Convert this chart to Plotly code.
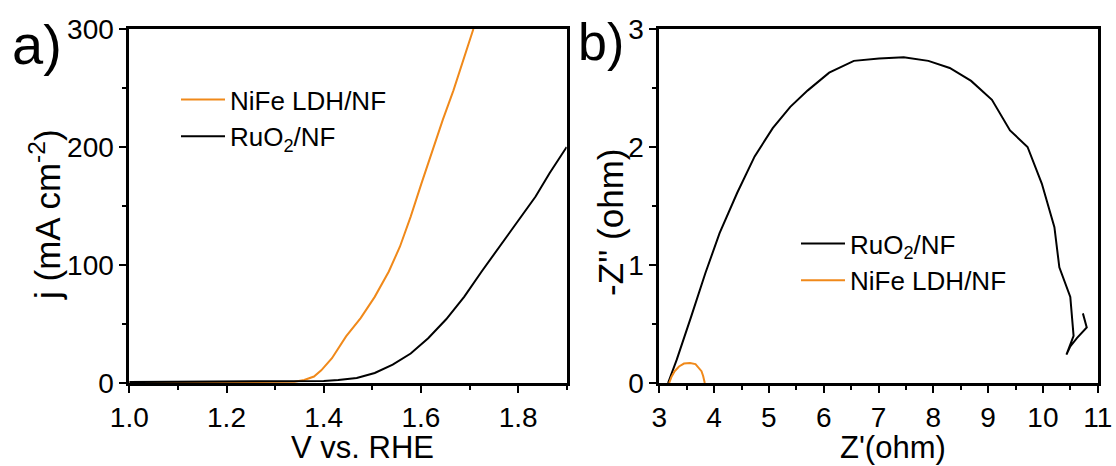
import plotly.graph_objects as go

# ---- Panel a: LSV data ----
nife_v = [1.00, 1.10, 1.20, 1.30, 1.34, 1.36, 1.38, 1.395, 1.417, 1.446, 1.476, 1.505,
          1.534, 1.557, 1.579, 1.601, 1.623, 1.645, 1.667, 1.689, 1.708]
nife_j = [0.5, 0.6, 0.7, 0.8, 1.0, 2.5, 5.5, 10.7, 21, 39.5, 55, 73,
          94.5, 115.7, 141, 169, 196, 223, 248, 277, 300]

ruo2_v = [1.00, 1.10, 1.20, 1.30, 1.40, 1.43, 1.468, 1.505, 1.542, 1.579, 1.615,
          1.652, 1.689, 1.725, 1.762, 1.799, 1.836, 1.865, 1.90]
ruo2_j = [0.8, 1.0, 1.2, 1.4, 1.8, 2.5, 4.2, 8.5, 15.5, 25, 38,
          54, 73, 94.5, 116, 137, 158, 178, 200]

# ---- Panel b: Nyquist data ----
ruo2_zre = [3.16, 3.32, 3.58, 3.84, 4.10, 4.42, 4.74, 5.07, 5.39, 5.71, 6.10, 6.55,
            7.01, 7.46, 7.91, 8.30, 8.69, 9.07, 9.40, 9.72, 9.98, 10.21, 10.30, 10.50,
            10.56, 10.43, 10.50, 10.62, 10.80, 10.73]
ruo2_zim = [0.0, 0.20, 0.56, 0.93, 1.27, 1.61, 1.92, 2.16, 2.34, 2.48, 2.63, 2.73,
            2.75, 2.76, 2.73, 2.67, 2.56, 2.40, 2.14, 2.00, 1.69, 1.32, 0.98, 0.73,
            0.40, 0.24, 0.31, 0.38, 0.47, 0.59]

nife_zre = [3.18, 3.22, 3.28, 3.36, 3.45, 3.56, 3.66, 3.74, 3.77, 3.80, 3.82, 3.83]
nife_zim = [0.0, 0.05, 0.10, 0.14, 0.165, 0.17, 0.16, 0.12, 0.10, 0.06, 0.02, 0.0]

ORANGE = "#F0891A"
BLACK = "#000000"
FONT = "Arial, Liberation Sans, sans-serif"
W, H = 1116, 466

def px_x(p):
    return p / W

def px_y(p):
    return 1 - p / H

fig = go.Figure()
fig.add_trace(go.Scatter(x=nife_v, y=nife_j, mode="lines", name="NiFe LDH/NF",
                         line=dict(color=ORANGE, width=2), xaxis="x", yaxis="y",
                         legend="legend"))
fig.add_trace(go.Scatter(x=ruo2_v, y=ruo2_j, mode="lines", name="RuO<sub>2</sub>/NF",
                         line=dict(color=BLACK, width=2), xaxis="x", yaxis="y",
                         legend="legend"))
fig.add_trace(go.Scatter(x=ruo2_zre, y=ruo2_zim, mode="lines", name="RuO<sub>2</sub>/NF",
                         line=dict(color=BLACK, width=2), xaxis="x2", yaxis="y2",
                         legend="legend2"))
fig.add_trace(go.Scatter(x=nife_zre, y=nife_zim, mode="lines", name="NiFe LDH/NF",
                         line=dict(color=ORANGE, width=2), xaxis="x2", yaxis="y2",
                         legend="legend2"))

ax_common = dict(showline=True, linewidth=2.8, linecolor="black", mirror=True,
                 ticks="outside", ticklen=7, tickwidth=2, tickcolor="black",
                 showgrid=False, zeroline=False,
                 tickfont=dict(family=FONT, size=28, color="black"),
                 automargin=False)

ydom = [px_y(383), px_y(29)]

fig.update_layout(
    width=W, height=H,
    margin=dict(l=0, r=0, t=0, b=0),
    paper_bgcolor="white", plot_bgcolor="white",
    font=dict(family=FONT, color="black"),
    xaxis=dict(domain=[px_x(129.3), px_x(566.7)], range=[1.0, 1.9], dtick=0.2, tick0=1.0,
               tickformat=".1f",
               minor=dict(ticks="outside", ticklen=4, tickwidth=2, dtick=0.1, tick0=1.0,
                          tickcolor="black"),
               anchor="y", **ax_common),
    yaxis=dict(domain=ydom, range=[0, 300], dtick=100,
               minor=dict(ticks="outside", ticklen=4, tickwidth=2, dtick=50,
                          tickcolor="black"),
               anchor="x", **ax_common),
    xaxis2=dict(domain=[px_x(659.3), px_x(1097.7)], range=[3, 11], dtick=1,
                minor=dict(ticks="outside", ticklen=4, tickwidth=2, dtick=0.5,
                           tickcolor="black"),
                anchor="y2", **ax_common),
    yaxis2=dict(domain=ydom, range=[0, 3], dtick=1,
                minor=dict(ticks="outside", ticklen=4, tickwidth=2, dtick=0.5,
                           tickcolor="black"),
                anchor="x2", **ax_common),
    legend=dict(x=px_x(176), y=px_y(76), xanchor="left", yanchor="top",
                bgcolor="rgba(0,0,0,0)", font=dict(family=FONT, size=26, color="black"),
                itemwidth=44, tracegroupgap=0),
    legend2=dict(x=px_x(796), y=px_y(220), xanchor="left", yanchor="top",
                 bgcolor="rgba(0,0,0,0)", font=dict(family=FONT, size=26, color="black"),
                 itemwidth=44, tracegroupgap=0),
    showlegend=True,
)

ann = [
    dict(text="a)", x=px_x(37), y=px_y(45), size=56),
    dict(text="b)", x=px_x(601), y=px_y(42), size=52),
    dict(text="V vs. RHE", x=px_x(362), y=px_y(447), size=31),
    dict(text="Z'(ohm)", x=px_x(893), y=px_y(447), size=31),
]
for a in ann:
    fig.add_annotation(text=a["text"], x=a["x"], y=a["y"], xref="paper", yref="paper",
                       showarrow=False, xanchor="center", yanchor="middle",
                       font=dict(family=FONT, size=a["size"], color="black"))
fig.add_annotation(text="j (mA cm<sup>-2</sup>)", x=px_x(45), y=px_y(215), xref="paper",
                   yref="paper", showarrow=False, textangle=-90, xanchor="center",
                   yanchor="middle", font=dict(family=FONT, size=35, color="black"))
fig.add_annotation(text="-Z'' (ohm)", x=px_x(610), y=px_y(222), xref="paper",
                   yref="paper", showarrow=False, textangle=-90, xanchor="center",
                   yanchor="middle", font=dict(family=FONT, size=35, color="black"))

fig.write_html("out.html")
